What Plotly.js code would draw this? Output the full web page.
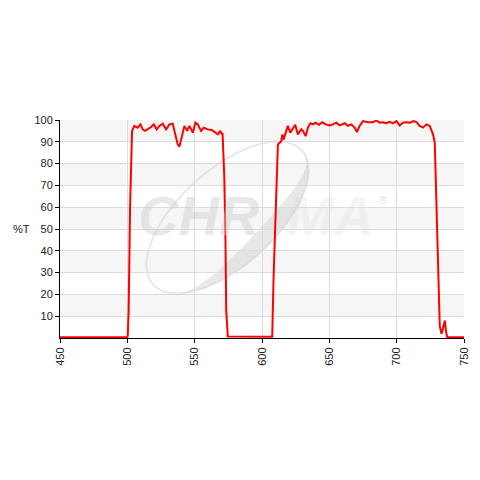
<!DOCTYPE html>
<html>
<head>
<meta charset="utf-8">
<script src="https://cdn.plot.ly/plotly-3.0.1.min.js"></script>
<style>html,body{margin:0;padding:0;background:#fff;}#chart{width:480px;height:480px;}</style>
</head>
<body>
<div id="chart"></div>
<script>
// Wavelength (nm)
const wavelength = [450, 500, 500.3, 501, 502, 502.8, 503.5, 505.2, 507.7, 509.7, 511.4, 513.2, 515.1, 517.7, 519.6, 521.8, 523.8, 526.3, 528.8, 531.3, 533.7, 535.5, 537.4, 538.7, 540.4, 542.4, 544.4, 546.1, 548.6, 550.6, 552.3, 554.8, 556.8, 559.7, 562.7, 565.2, 567.2, 569, 570.2, 570.7, 571.3, 572, 572.9, 573.4, 574.6,
  607.3, 607.6, 608.6, 610.1, 611.1, 611.8, 614.3, 615.1, 616, 617.5, 619.2, 621, 623, 624.7, 626.6, 629.2, 630.4, 632.4, 634.1, 635.9, 637.8, 639.8, 642.3, 644.8, 647.3, 650.2, 652.7, 655.2, 657.7, 661.4, 663.8, 666.3, 668.8, 670.5, 672.5, 675, 678.7, 682.4, 684.9, 687.4, 689.9, 692.4, 694.8, 697.3, 699.8, 702.3, 704.7, 707.2, 709.7, 712.7, 714.7, 717.1, 719.6, 722.1, 724.6, 725.8, 727, 728.3, 729, 730, 731.3, 732, 733.3, 734.5, 735.8, 736.5, 737.5, 750];
// Transmission (%T)
const transmission = [0.4, 0.4, 0.8, 13, 59, 82, 95, 97.3, 96.5, 98, 95.7, 95, 95.7, 96.8, 98, 95.7, 97.3, 98.3, 95.7, 98, 98.3, 93.4, 88.8, 87.8, 91.8, 97.3, 95, 97.3, 94.2, 98.8, 98, 95, 96.5, 95.7, 95.4, 94.2, 93.4, 95, 93.4, 94, 85, 74, 43.7, 13, 0.7,
  0.4, 0.6, 28, 59, 82, 88.8, 90.3, 93.4, 91, 94.2, 97.3, 94.2, 96.5, 97.8, 93.4, 95.7, 95, 92.6, 96.5, 98.5, 98, 98.8, 97.8, 99, 98, 97.5, 98, 98.8, 97.5, 98.5, 97.3, 98, 96.5, 94.5, 97.3, 99.5, 99, 99, 99.8, 98.8, 99, 98.5, 99.2, 98.5, 99.5, 97.5, 98.8, 99, 98.8, 99.5, 99, 97.3, 96.5, 98, 97.3, 95, 93.4, 89.6, 74, 43.7, 13, 5.3, 2, 4.5, 8, 3.5, 0.5, 0.4];

const xTicks = [450, 500, 550, 600, 650, 700, 750];
const yTicks = [10, 20, 30, 40, 50, 60, 70, 80, 90, 100];
const stripeBands = [[10, 20], [30, 40], [50, 60], [70, 80], [90, 100]];

const shapes = stripeBands.map(b => ({
  type: 'rect', xref: 'paper', yref: 'y', x0: 0, x1: 1, y0: b[0], y1: b[1],
  fillcolor: '#f6f6f6', line: {width: 0}, layer: 'below'
}));

// watermark swoosh (decorative ellipse ring + crescent), built in paper units
const PX0 = 60.7, PW = 403.6, PY0 = 338.3, PH = 217.6;
const toP = (px, py) => [((px - PX0) / PW).toFixed(4), ((PY0 - py) / PH).toFixed(4)];
const cx = 228, cy = 218, A = 100, B = 48, ang = 42 * Math.PI / 180;
const u = [Math.cos(ang), -Math.sin(ang)], v = [Math.sin(ang), Math.cos(ang)];
function ellPt(t, b) {
  const c = Math.cos(t), s = Math.sin(t);
  return toP(cx + A * c * u[0] + b * s * v[0], cy + A * c * u[1] + b * s * v[1]);
}
let ring = '';
for (let i = 0; i <= 72; i++) {
  const p = ellPt(i / 72 * 2 * Math.PI, B);
  ring += (i === 0 ? 'M ' : ' L ') + p[0] + ' ' + p[1];
}
shapes.push({type: 'path', xref: 'paper', yref: 'paper', layer: 'below', path: ring,
  line: {color: 'rgba(205,205,205,0.45)', width: 2}});
let cres = '';
const t0 = -10, t1 = 150, n = 40;
for (let i = 0; i <= n; i++) {
  const t = (t0 + (t1 - t0) * i / n) * Math.PI / 180;
  const p = ellPt(t, B);
  cres += (i === 0 ? 'M ' : ' L ') + p[0] + ' ' + p[1];
}
for (let i = n; i >= 0; i--) {
  const td = t0 + (t1 - t0) * i / n;
  const t = td * Math.PI / 180;
  const w = 18 * Math.sin((td - t0) / (t1 - t0) * Math.PI);
  const p = ellPt(t, B - w);
  cres += ' L ' + p[0] + ' ' + p[1];
}
cres += ' Z';
shapes.push({type: 'path', xref: 'paper', yref: 'paper', layer: 'below', path: cres,
  fillcolor: 'rgba(205,205,205,0.45)', line: {width: 0}});

const trace = {
  x: wavelength, y: transmission, type: 'scatter', mode: 'lines',
  line: {color: '#ff0000', width: 2}, hoverinfo: 'skip'
};

const layout = {
  width: 480, height: 480,
  margin: {l: 60, r: 16, t: 120, b: 142},
  paper_bgcolor: '#ffffff', plot_bgcolor: '#ffffff',
  showlegend: false,
  font: {family: 'Liberation Sans, Arial, sans-serif', size: 11, color: '#222'},
  xaxis: {
    range: [450, 750], tickvals: xTicks, ticktext: xTicks.map(String),
    tickangle: -90, showgrid: true, gridcolor: '#dcdcdc', gridwidth: 1,
    showline: true, linecolor: '#000', linewidth: 1,
    ticks: 'outside', ticklen: 4, tickcolor: '#000', zeroline: false,
    fixedrange: true
  },
  yaxis: {
    range: [0, 100], tickvals: yTicks, ticktext: yTicks.map(String),
    showgrid: true, gridcolor: '#dcdcdc', gridwidth: 1,
    showline: true, linecolor: '#000', linewidth: 1,
    ticks: 'outside', ticklen: 4, tickcolor: '#000', zeroline: false,
    fixedrange: true
  },
  shapes: shapes,
  annotations: [
    {text: '%T', xref: 'paper', yref: 'paper', x: -0.095, y: 0.498, xanchor: 'center', yanchor: 'middle',
     showarrow: false, font: {size: 11, color: '#222'}},
    {text: '<b><i>CHR</i></b>', xref: 'paper', yref: 'paper', x: 0.345, y: 0.56, xanchor: 'center', yanchor: 'middle',
     showarrow: false, font: {size: 56, color: 'rgba(205,205,205,0.45)', family: 'Liberation Sans, Arial, sans-serif'}},
    {text: '<b><i>MA</i></b>', xref: 'paper', yref: 'paper', x: 0.67, y: 0.56, xanchor: 'center', yanchor: 'middle',
     showarrow: false, font: {size: 56, color: 'rgba(215,215,215,0.25)', family: 'Liberation Sans, Arial, sans-serif'}},
    {text: '®', xref: 'paper', yref: 'paper', x: 0.80, y: 0.635, xanchor: 'center', yanchor: 'middle',
     showarrow: false, font: {size: 11, color: 'rgba(200,200,200,0.6)'}}
  ]
};

Plotly.newPlot('chart', [trace], layout, {staticPlot: true, displayModeBar: false});
</script>
</body>
</html>
